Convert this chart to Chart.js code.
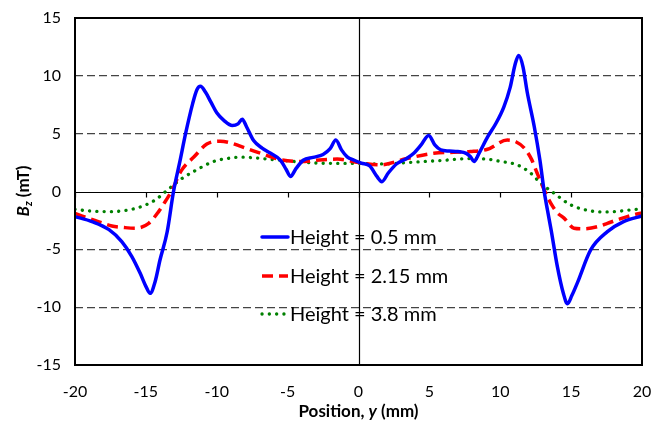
<!DOCTYPE html>
<html><head><meta charset="utf-8">
<script src="https://cdn.jsdelivr.net/npm/chart.js@4"></script>
<style>html,body{margin:0;padding:0;background:#fff}#wrap{width:660px;height:423px}</style>
</head><body><div id="wrap"><canvas id="c" width="660" height="423"></canvas></div>
<script>
const xTicks = [-20,-15,-10,-5,0,5,10,15,20];
const yTicks = [-15,-10,-5,0,5,10,15];
const seriesLabels = ['Height = 0.5 mm','Height = 2.15 mm','Height = 3.8 mm'];

const blueX = [-20,-18.8,-17.6,-16.7,-16.0,-15.4,-15.0,-14.7,-14.35,-14.0,-13.5,-13.05,-12.6,-12.2,-11.7,-11.4,-11.15,-10.8,-10.4,-10.0,-9.5,-8.9,-8.5,-8.2,-7.9,-7.4,-6.8,-6.2,-5.5,-5.1,-4.8,-4.4,-3.9,-3.2,-2.5,-2.0,-1.6,-1.2,-0.8,-0.3,0.2,0.8,1.3,1.65,2.1,2.7,3.4,3.9,4.4,4.95,5.4,5.8,6.4,7.0,7.6,7.9,8.15,8.5,9.1,9.7,10.25,10.7,11.05,11.3,11.6,11.9,12.4,12.8,13.1,13.33,13.6,14.03,14.45,14.74,15.05,15.44,16.38,17.56,18.7,20];
const blueY = [-2.17,-2.6,-3.3,-4.33,-5.6,-7.07,-8.2,-8.8,-7.8,-5.9,-3.5,0,2.6,5.0,7.6,8.8,9.1,8.6,7.7,6.8,6.15,5.7,5.85,6.25,5.6,4.4,3.75,3.3,2.7,1.9,1.3,2.0,2.7,2.95,3.2,3.7,4.45,3.6,3.0,2.7,2.45,2.2,1.3,0.85,1.6,2.4,2.85,3.3,4.0,4.85,4.0,3.6,3.5,3.45,3.3,3.0,2.6,3.3,4.7,5.9,7.3,9.0,11.0,11.75,10.8,8.6,5.6,2.7,0,-1.6,-3.4,-6.5,-8.8,-9.7,-9.0,-7.9,-5.05,-3.47,-2.6,-2.12];

const redX = [-20,-18.6,-17.4,-16.5,-15.75,-14.8,-14.1,-13.6,-13.2,-12.5,-11.6,-10.7,-9.75,-9,-8.3,-6.9,-5.5,-4.1,-2.5,-1.5,0,1.5,3.4,5.3,7.9,9.1,10.5,11.1,11.7,12.2,12.6,13.3,13.56,14.0,14.5,15.2,15.9,17,17.56,18.5,19.44,20];
const redY = [-1.9,-2.5,-2.98,-3.12,-3.18,-2.75,-1.74,-0.8,0.0,1.8,3.0,4.1,4.35,4.2,3.9,3.3,2.75,2.6,2.75,2.8,2.5,2.3,2.85,3.3,3.45,3.65,4.45,4.3,3.75,2.8,1.6,-0.4,-1.0,-1.8,-2.3,-3.17,-3.22,-3.0,-2.75,-2.35,-2.0,-1.85];

const greenX = [-20,-18.8,-17.6,-16.5,-15.3,-14.34,-13.5,-12.6,-11.6,-10.2,-9,-8.3,-6,-2.7,0,1.5,4,5.8,7.9,9.1,10,11.2,12.15,12.85,13.8,14.97,16.38,17.56,19.2,20];
const greenY = [-1.55,-1.7,-1.74,-1.65,-1.3,-0.73,0.1,1.0,1.75,2.6,2.9,2.97,2.75,2.45,2.42,2.38,2.55,2.68,2.85,2.8,2.6,2.3,1.58,0.72,-0.15,-1.16,-1.68,-1.77,-1.6,-1.5];

const pts = (xs, ys) => xs.map((x,i)=>({x:x,y:ys[i]}));
const FONT = 'Lato, "Open Sans", sans-serif';

const overlay = {
  id:'overlay',
  beforeDatasetsDraw(chart){
    const {ctx, chartArea:a, scales:{x,y}} = chart;
    ctx.save();
    ctx.strokeStyle='#000'; ctx.lineWidth=1.2; ctx.setLineDash([]);
    const y0 = Math.round(y.getPixelForValue(0))+0.5;
    const x0 = Math.round(x.getPixelForValue(0))+0.5;
    ctx.beginPath(); ctx.moveTo(a.left,y0); ctx.lineTo(a.right,y0); ctx.stroke();
    ctx.beginPath(); ctx.moveTo(x0,a.top); ctx.lineTo(x0,a.bottom); ctx.stroke();
    xTicks.forEach(t=>{ const px=Math.round(x.getPixelForValue(t))+0.5; ctx.beginPath(); ctx.moveTo(px,y0); ctx.lineTo(px,y0+5); ctx.stroke(); });
    ctx.restore();
  },
  afterDraw(chart){
    const {ctx, chartArea:a} = chart;
    ctx.save();
    ctx.strokeStyle='#000'; ctx.lineWidth=2; ctx.setLineDash([]);
    ctx.strokeRect(a.left, a.top, a.right-a.left, a.bottom-a.top);
    // legend
    const lx = 262, ly = [237, 276, 314];
    chart.data.datasets.forEach((ds,i)=>{
      ctx.save();
      ctx.strokeStyle = ds.borderColor; ctx.lineWidth = ds.borderWidth;
      ctx.setLineDash(ds.borderDash || []); ctx.lineCap = ds.borderCapStyle || 'butt';
      ctx.beginPath(); ctx.moveTo(lx, ly[i]); ctx.lineTo(lx+26, ly[i]); ctx.stroke();
      ctx.restore();
      ctx.fillStyle='#000'; ctx.font='20px '+FONT; ctx.textBaseline='middle'; ctx.textAlign='left';
      ctx.fillText(ds.label, lx+28, ly[i]+1);
    });
    // x title
    ctx.textBaseline='alphabetic';
    const parts = [['bold 17px ','Position, '],['italic bold 17px ','y'],['bold 17px ',' (mm)']];
    let w=0; parts.forEach(p=>{ctx.font=p[0]+FONT; w+=ctx.measureText(p[1]).width;});
    let cx = (a.left+a.right)/2 - w/2;
    parts.forEach(p=>{ctx.font=p[0]+FONT; ctx.fillText(p[1],cx,417); cx+=ctx.measureText(p[1]).width;});
    // y title
    ctx.translate(29, 191); ctx.rotate(-Math.PI/2);
    const yp = [['italic bold 17px ','B',0],['italic bold 11px ','z',3],['bold 17px ',' (mT)',0]];
    w=0; yp.forEach(p=>{ctx.font=p[0]+FONT; w+=ctx.measureText(p[1]).width;});
    cx=-w/2;
    yp.forEach(p=>{ctx.font=p[0]+FONT; ctx.fillText(p[1],cx,p[2]); cx+=ctx.measureText(p[1]).width;});
    ctx.restore();
  }
};

new Chart(document.getElementById('c'), {
  type:'line',
  data:{ datasets:[
    {label:seriesLabels[0], data:pts(blueX,blueY), borderColor:'#0000ff', borderWidth:3.5, pointRadius:0, cubicInterpolationMode:'monotone', borderJoinStyle:'round', borderCapStyle:'round'},
    {label:seriesLabels[1], data:pts(redX,redY), borderColor:'#ff0000', borderWidth:3.5, borderDash:[11,6], pointRadius:0, cubicInterpolationMode:'monotone'},
    {label:seriesLabels[2], data:pts(greenX,greenY), borderColor:'#008000', borderWidth:3.3, borderDash:[0.1,7.2], borderCapStyle:'round', pointRadius:0, cubicInterpolationMode:'monotone'}
  ]},
  options:{
    responsive:false, animation:false, devicePixelRatio:1,
    layout:{padding:{top:18, right:18, left:0, bottom:0}},
    plugins:{legend:{display:false}, tooltip:{enabled:false}},
    scales:{
      x:{type:'linear', min:-20, max:20,
        afterBuildTicks(s){ s.ticks = xTicks.map(v=>({value:v})); },
        afterFit(s){ s.height = 58; s.paddingRight = 0; s.paddingLeft = 0; },
        grid:{display:false, drawTicks:false},
        border:{display:false},
        ticks:{padding:17, color:'#000', font:{family:FONT, size:16}}},
      y:{type:'linear', min:-15, max:15,
        afterBuildTicks(s){ s.ticks = yTicks.map(v=>({value:v})); },
        afterFit(s){ s.width = 75; s.paddingTop = 0; s.paddingBottom = 0; },
        grid:{drawTicks:false, lineWidth:1.2, color:(c)=> (Math.abs(c.tick.value)===5||Math.abs(c.tick.value)===10)?'#444':'rgba(0,0,0,0)'},
        border:{display:false, dash:[8,4]},
        ticks:{padding:14, color:'#000', font:{family:FONT, size:16}}}
    }
  },
  plugins:[overlay]
});
</script></body></html>
